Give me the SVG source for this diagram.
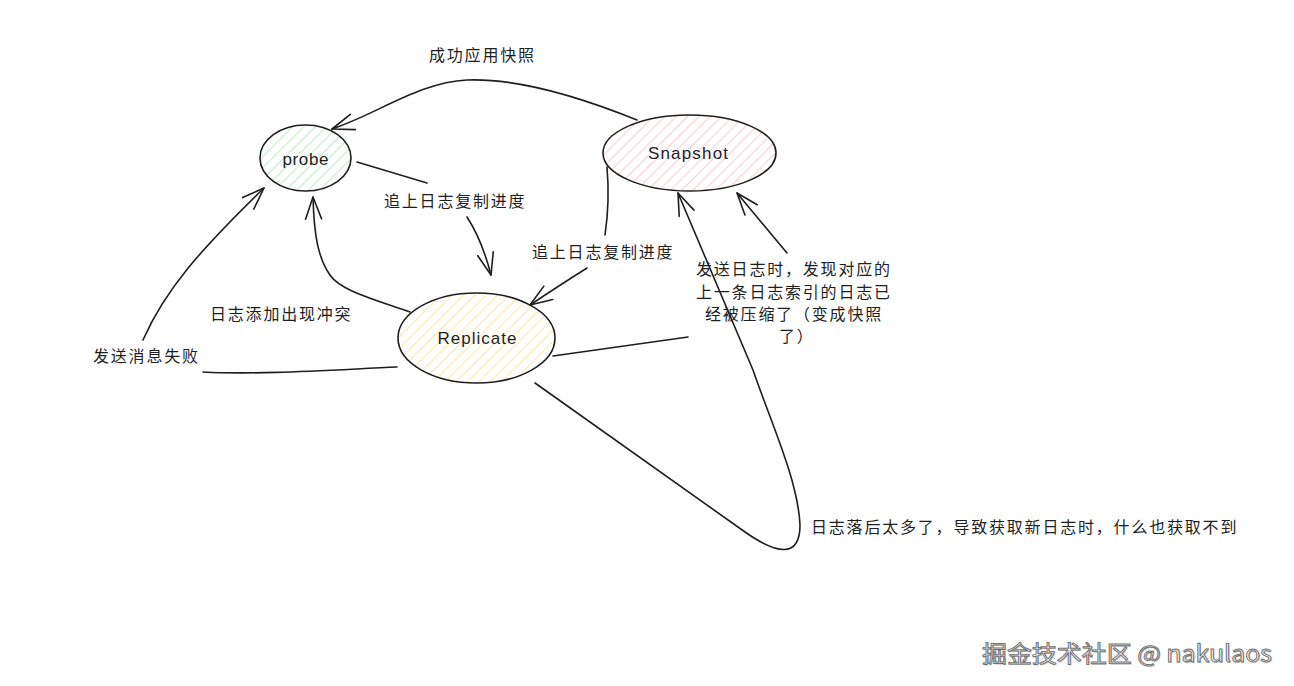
<svg xmlns="http://www.w3.org/2000/svg" width="1294" height="686" viewBox="0 0 1294 686">
  <style>
    .node { stroke: #1e1e1e; stroke-width: 1.6; }
    .edge { fill: none; stroke: #1e1e1e; stroke-width: 1.6; stroke-linecap: round; stroke-linejoin: round; }
    .lbl { font-family: "Noto Sans CJK SC", "Noto Sans", sans-serif; font-size: 16px; letter-spacing: 1.8px; fill: #1e1e1e; dominant-baseline: central; }
    .ntxt { font-family: "Liberation Sans", "DejaVu Sans", sans-serif; font-size: 17px; fill: #1e1e1e; text-anchor: middle; dominant-baseline: central; }
    .wm { font-family: "Noto Sans CJK SC", "Noto Sans", sans-serif; font-size: 23px; dominant-baseline: central; }
  </style>
  <defs>
    <pattern id="hg" width="8" height="8" patternUnits="userSpaceOnUse" patternTransform="rotate(45)">
      <line x1="0" y1="0" x2="0" y2="8" stroke="#a8e6b2" stroke-width="1.5"/>
    </pattern>
    <pattern id="hp" width="8" height="8" patternUnits="userSpaceOnUse" patternTransform="rotate(45)">
      <line x1="0" y1="0" x2="0" y2="8" stroke="#fbbcbc" stroke-width="1.5"/>
    </pattern>
    <pattern id="hy" width="8" height="8" patternUnits="userSpaceOnUse" patternTransform="rotate(45)">
      <line x1="0" y1="0" x2="0" y2="8" stroke="#f8e38c" stroke-width="1.5"/>
    </pattern>
    <marker id="arr" markerUnits="userSpaceOnUse" markerWidth="30" markerHeight="30" refX="0" refY="0" orient="auto" overflow="visible">
      <path d="M-22,-8 L0,0 L-22,8" fill="none" stroke="#1e1e1e" stroke-width="1.6" stroke-linecap="round" stroke-linejoin="round"/>
    </marker>
  </defs>

  <rect width="1294" height="686" fill="#ffffff"/>

  <g id="probe">
    <ellipse class="node" cx="305.5" cy="158" rx="45.5" ry="33" fill="url(#hg)"/>
    <text class="ntxt" x="305.5" y="159" textLength="46" lengthAdjust="spacing">probe</text>
  </g>
  <g id="snapshot">
    <ellipse class="node" cx="689.5" cy="153" rx="86.5" ry="38" fill="url(#hp)"/>
    <text class="ntxt" x="688" y="153" textLength="80" lengthAdjust="spacing">Snapshot</text>
  </g>
  <g id="replicate">
    <ellipse class="node" cx="476.5" cy="338" rx="78.5" ry="45" fill="url(#hy)"/>
    <text class="ntxt" x="477" y="338" textLength="79" lengthAdjust="spacing">Replicate</text>
  </g>

  <g id="connectors">
    <!-- Snapshot -> probe : 成功应用快照 -->
    <path class="edge" d="M637,120 C585,99 520,78 467,80 C420,82 377,114 332,129" marker-end="url(#arr)"/>
    <!-- probe -> Replicate : 追上日志复制进度 -->
    <path class="edge" d="M357,162 L427,183"/>
    <path class="edge" d="M467,217 Q482,240 491,275" marker-end="url(#arr)"/>
    <!-- Snapshot -> Replicate : 追上日志复制进度 -->
    <path class="edge" d="M607,167 C609,190 608,215 605,235"/>
    <path class="edge" d="M587,268 Q560,285 530,305" marker-end="url(#arr)"/>
    <!-- Replicate -> probe : 日志添加出现冲突 -->
    <path class="edge" d="M410,312 C370,298 340,290 330,275 C318,258 314,235 313,197" marker-end="url(#arr)"/>
    <!-- Replicate -> probe : 发送消息失败 -->
    <path class="edge" d="M397,367 C330,370 260,375 203,372"/>
    <path class="edge" d="M143,340 C165,290 200,250 264,188" marker-end="url(#arr)"/>
    <!-- Replicate -> Snapshot : 压缩 -->
    <path class="edge" d="M553,356 L688,337"/>
    <path class="edge" d="M787,253 L737,193" marker-end="url(#arr)"/>
    <!-- Replicate -> Snapshot : 日志落后太多 -->
    <path class="edge" d="M535,383 L745,532 C775,553 800,560 800,525 C798,480 770,420 753,370 L678,193" marker-end="url(#arr)"/>

    <g id="edge-labels">
      <text class="lbl" x="429" y="54">成功应用快照</text>
      <text class="lbl" x="384" y="200">追上日志复制进度</text>
      <text class="lbl" x="532" y="251">追上日志复制进度</text>
      <text class="lbl" x="210" y="313">日志添加出现冲突</text>
      <text class="lbl" x="93" y="355">发送消息失败</text>
      <text class="lbl" x="696" y="268">发送日志时，发现对应的</text>
      <text class="lbl" x="696" y="291">上一条日志索引的日志已</text>
      <text class="lbl" x="705" y="313">经被压缩了（变成快照</text>
      <text class="lbl" x="779" y="335">了）</text>
      <text class="lbl" x="811" y="526">日志落后太多了，导致获取新日志时，什么也获取不到</text>
    </g>
  </g>

  <g id="watermark">
    <text class="wm" x="983" y="653" fill="#c8c8c8" textLength="290" lengthAdjust="spacingAndGlyphs">掘金技术社区 @ nakulaos</text>
    <text class="wm" x="982" y="652" fill="#f4f4f4" stroke="#6e6e6e" stroke-width="0.9" textLength="290" lengthAdjust="spacingAndGlyphs">掘金技术社区 @ nakulaos</text>
  </g>
</svg>
